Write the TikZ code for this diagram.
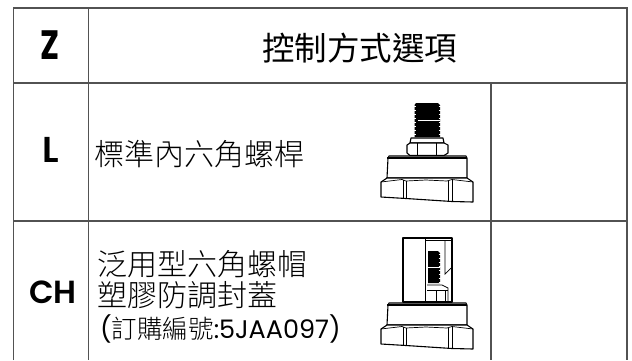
\documentclass[tikz,border=0pt]{standalone}
\usepackage{fontspec}
\setmainfont{Poppins}
\newfontfamily\cjk{Noto Sans CJK TC Light}
\newfontfamily\cjkr{Noto Sans CJK TC}
\newfontfamily\hd{Poppins SemiBold}
\newfontfamily\hdb{Poppins Bold}
\newcommand{\hexbase}[1]{%
 \begin{scope}[yshift=-#1pt]
  \draw[part,fill=white] (388,158) -- (389,156) -- (466,156) -- (467,158) -- (467,178) -- (387,178) -- cycle;
  \draw[part] (387,158) -- (467,158);
  \draw[part,fill=white] (381,182) -- (387,178) -- (467,178) -- (473,182) -- (473,202) -- (452,201.5) -- (406,198.5) -- (381,197) -- cycle;
  \draw[thin1] (381,182) -- (402,179.5) -- (406,181) -- (426,180) -- (447,181) -- (452,179.5) -- (473,182);
  \draw[thin1] (403,180) -- (403,198); \draw[thin1] (406,181) -- (406,198.5);
  \draw[thin1] (448,181) -- (448,201); \draw[thin1] (452,180) -- (452,201.5);
 \end{scope}}
\tikzset{
 grid/.style={draw=black!68,line width=1.1pt},
 part/.style={draw=black,line width=1.1pt,line join=round},
 thin1/.style={draw=black,line width=0.7pt},
 head/.style={font=\hd\fontsize{32}{32}\selectfont,anchor=center,inner sep=0},
 cn/.style={font=\cjk\fontsize{30}{30}\selectfont,anchor=west,inner sep=0},
}
\begin{document}
\begin{tikzpicture}[x=1pt,y=-1pt]
\useasboundingbox (0,0) rectangle (632,360);
\fill[white] (0,0) rectangle (632,360);
% table
\coordinate (tl) at (13.5,8); \coordinate (tr) at (627,8);
\coordinate (ml) at (13.5,83); \coordinate (mr) at (627,83);
\coordinate (nl) at (13.5,221); \coordinate (nr) at (627,221);
\coordinate (bl) at (13.5,360); \coordinate (br) at (627,360);
\coordinate (c1t) at (88.5,8); \coordinate (c1b) at (88.5,360);
\coordinate (c2t) at (491,83); \coordinate (c2b) at (491,360);
\draw[grid] (bl) -- (tl) -- (tr) -- (br);
\draw[grid] (ml) -- (mr); \draw[grid] (nl) -- (nr);
\draw[grid] (c1t) -- (c1b); \draw[grid] (c2t) -- (c2b);
% labels
\node[head,font=\hdb\fontsize{41}{41}\selectfont] (z) at (50,45.5) {\scalebox{.78}[1]{Z}};
\node[head,font=\hd\fontsize{36}{36}\selectfont] (l) at (51,150) {L};
\node[head] (ch) at (53,292.5) {CH};
\node[anchor=center,inner sep=0,font=\cjkr\fontsize{32.5}{32.5}\selectfont] (title) at (359.5,48) {控制方式選項};
\node[cn] (std) at (94,154) {標準內六角螺桿};
\node[cn] (a1) at (97,264) {泛用型六角螺帽};
\node[cn] (a2) at (97,295) {塑膠防調封蓋};
\node[anchor=west,inner sep=0,font=\fontsize{25.5}{25.5}\selectfont] (a3) at (100,329) {({\cjk 訂購編號}:5JAA097)};
% upper part
\fill[black] (414.5,105) -- (416,103) -- (438,103) -- (440,105) -- (440,137) -- (414.5,137) -- cycle;
\foreach \yy in {106,110,...,134} {\draw[white,line width=0.5pt] (414,\yy) -- (416,\yy); \draw[white,line width=0.5pt] (438.5,\yy) -- (440.5,\yy);}
\draw[white,line width=0.7pt] (418,120) -- (440,120);
\draw[part,fill=white] (410,143) -- (411,138) -- (443,138) -- (444,143) -- cycle;
\draw[part,fill=white] (407,145) -- (410,143) -- (444,143) -- (448,145) -- (448,153) -- (444,155.5) -- (410,155.5) -- (407,153) -- cycle;
\draw[thin1] (417,143) -- (417,155); \draw[thin1] (436,143) -- (436,155);
\hexbase{0}
% lower part
\draw[part,fill=white] (403,238) rectangle (452,302);
\draw[thin1] (425,238) -- (425,302);
\draw[thin1] (425,240.5) -- (452,240.5);
\draw[thin1] (445,240) -- (445,274) -- (451,268);
\fill[black] (428,251) -- (438,251) -- (440,253) -- (440,283) -- (428,283) -- cycle;
\foreach \yy in {254,258,...,282} {\draw[white,line width=0.5pt] (438.5,\yy) -- (440.5,\yy);}
\draw[white,line width=0.7pt] (428,267) -- (440,267);
\draw[thin1] (427,285) -- (442,285) -- (448,288) -- (448,302);
\draw[thin1] (427,290) -- (448,290);
\draw[thin1] (436,290) -- (436,302);
\draw[thin1] (445,290) -- (445,302);
\hexbase{147}
\end{tikzpicture}
\end{document}
